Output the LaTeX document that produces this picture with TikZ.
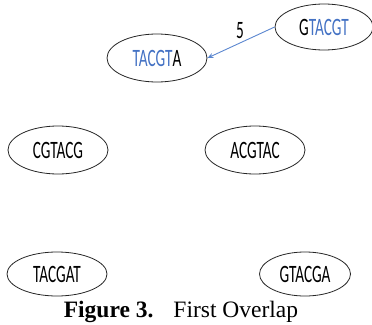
\documentclass[tikz,border=0pt]{standalone}
\usepackage{fontspec}
\setmainfont{Liberation Serif}
\newfontfamily\seqfont[FakeStretch=0.61]{Carlito}
\usetikzlibrary{shapes.geometric,arrows.meta}
\definecolor{seqblue}{HTML}{4472C4}
\definecolor{edgeblue}{HTML}{5B87D0}
\tikzset{
  read/.style={ellipse, draw=black!85, line width=0.8pt, minimum width=100pt,
    minimum height=48pt, inner sep=0pt, font=\seqfont\fontsize{25}{25}\selectfont},
  overlap/.style={draw=edgeblue, line width=0.9pt, -{Stealth[length=6pt,width=5pt]}},
  weight/.style={font=\seqfont\fontsize{25}{25}\selectfont, text=black}
}
\begin{document}
\begin{tikzpicture}[x=1pt,y=-1pt]
  \useasboundingbox (0,0) rectangle (372,324);
  \fill[white] (0,0) rectangle (372,324);
  % reads
  \node[read] (r1) at (157,58) {\textcolor{seqblue}{TACGT}A};
  \node[read, minimum width=98pt, minimum height=46pt] (r2) at (324,27) {G\textcolor{seqblue}{TACGT}};
  \node[read] (r3) at (58,150) {CGTACG};
  \node[read] (r4) at (255,150) {ACGTAC};
  \node[read, minimum height=44pt] (r5) at (57,274) {TACGAT};
  \node[read, minimum width=91pt, minimum height=44pt] (r6) at (305,274) {GTACGA};
  % first overlap edge
  \draw[overlap] (r2.west) -- (r1.east);
  \node[weight] (w) at (240,31) {5};
  % caption
  \node[anchor=base, font=\fontsize{23.5}{23.5}\selectfont, inner sep=0pt] (cap) at (181,317)
    {\textbf{Figure 3.}\hspace{20pt}First Overlap};
\end{tikzpicture}
\end{document}
